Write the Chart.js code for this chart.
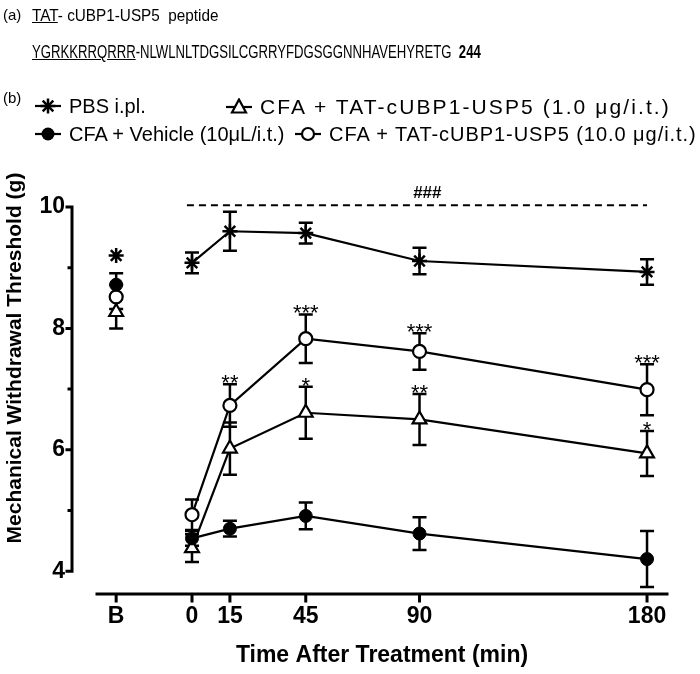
<!DOCTYPE html>
<html>
<head>
<meta charset="utf-8">
<script src="https://cdn.jsdelivr.net/npm/chart.js@4.4.0/dist/chart.umd.min.js"></script>
<style>
    body { margin: 0; background: #fff; font-family: "Liberation Sans", Arial, sans-serif; color: #000; }
    #page { position: relative; width: 700px; height: 674px; overflow: hidden; }
    #chart { position: absolute; left: 0; top: 0; }
    .txt { position: absolute; white-space: nowrap; line-height: 1; }
    .item { position: absolute; white-space: nowrap; line-height: 1; font-size: 20px; display: flex; align-items: center; }
    .item svg { margin-right: 8px; }
</style>
</head>
<body>
<div id="page">
    <canvas id="chart" width="700" height="674"></canvas>

    <div class="txt" style="left:3px; top:7px; font-size:15px;">(a)</div>
    <div class="txt" style="left:32px; top:7px; font-size:17px; transform:scaleX(0.9); transform-origin:left;"><u>TAT</u>- cUBP1-USP5&nbsp; peptide</div>
    <div class="txt" style="left:32px; top:43px; font-size:18px; transform:scaleX(0.73); transform-origin:left;"><u>YGRKKRRQRRR</u>-NLWLNLTDGSILCGRRYFDGSGGNNHAVEHYRETG&nbsp; <b>244</b></div>

    <div class="txt" style="left:3px; top:90px; font-size:15px;">(b)</div>
    <div id="legend"></div>
</div>

<script>
// x positions (minutes after treatment); baseline "B" sits left of 0
var timeLabels = ['B', '0', '15', '45', '90', '180'];
var timeValues = [-30, 0, 15, 45, 90, 180];

var pbsMean = [9.2, 9.08, 9.6, 9.57, 9.11, 8.93];
var pbsSem = [0, 0.17, 0.32, 0.17, 0.22, 0.21];

var vehicleMean = [8.72, 4.54, 4.7, 4.91, 4.62, 4.2];
var vehicleSem = [0.19, 0.12, 0.13, 0.22, 0.27, 0.46];

var dose1Mean = [8.27, 4.38, 6.02, 6.61, 6.5, 5.94];
var dose1Sem = [0.27, 0.23, 0.43, 0.43, 0.42, 0.37];
var dose1Stars = ['', '', '', '*', '**', '*'];

var dose10Mean = [8.52, 4.93, 6.73, 7.83, 7.62, 6.99];
var dose10Sem = [0.2, 0.25, 0.35, 0.4, 0.3, 0.42];
var dose10Stars = ['', '', '**', '***', '***', '***'];

var yTicks = [4, 6, 8, 10];
var yMinorTicks = [5, 7, 9];

var seriesNames = ['PBS i.pl.', 'CFA + Vehicle (10\u03bcL/i.t.)', 'CFA + TAT-cUBP1-USP5 (1.0 \u03bcg/i.t.)', 'CFA + TAT-cUBP1-USP5 (10.0 \u03bcg/i.t.)'];

var FONT = '"Liberation Sans", Arial, sans-serif';
Chart.defaults.font.family = FONT;
Chart.defaults.color = '#000';

function toPoints(means) {
    return timeValues.map(function (t, i) { return { x: t, y: means[i] }; });
}

// no line between baseline and time 0
function hideFirst(ctx) {
    return ctx.p0DataIndex === 0 ? 'rgba(0,0,0,0)' : '#000';
}

// axis lines drawn by hand (offset y axis, separate x axis like the original)
var axesPlugin = {
    id: 'axes',
    beforeDatasetsDraw: function (chart) {
        var ctx = chart.ctx, xs = chart.scales.x, ys = chart.scales.y, area = chart.chartArea;
        var ax = area.left - 25;
        ctx.save();
        ctx.strokeStyle = '#000';
        ctx.lineWidth = 3;
        ctx.lineCap = 'square';
        ctx.beginPath();
        ctx.moveTo(ax, ys.getPixelForValue(4));
        ctx.lineTo(ax, ys.getPixelForValue(10));
        yTicks.forEach(function (v) {
            var y = ys.getPixelForValue(v);
            ctx.moveTo(ax, y); ctx.lineTo(ax - 5, y);
        });
        yMinorTicks.forEach(function (v) {
            var y = ys.getPixelForValue(v);
            ctx.moveTo(ax, y); ctx.lineTo(ax - 3, y);
        });
        ctx.moveTo(area.left, area.bottom);
        ctx.lineTo(area.right, area.bottom);
        timeValues.forEach(function (t) {
            var x = xs.getPixelForValue(t);
            ctx.moveTo(x, area.bottom); ctx.lineTo(x, area.bottom + 7);
        });
        ctx.stroke();
        ctx.restore();
    }
};

var errorBarPlugin = {
    id: 'errorBars',
    beforeDatasetsDraw: function (chart) {
        var ctx = chart.ctx, xs = chart.scales.x, ys = chart.scales.y;
        ctx.save();
        ctx.strokeStyle = '#000';
        ctx.lineWidth = 2.5;
        chart.data.datasets.forEach(function (ds) {
            ds.data.forEach(function (p, i) {
                var e = ds.sem[i];
                if (!e) return;
                var x = xs.getPixelForValue(p.x);
                var yTop = ys.getPixelForValue(p.y + e);
                var yBot = ys.getPixelForValue(p.y - e);
                ctx.beginPath();
                ctx.moveTo(x, yTop); ctx.lineTo(x, yBot);
                ctx.moveTo(x - 7, yTop); ctx.lineTo(x + 7, yTop);
                ctx.moveTo(x - 7, yBot); ctx.lineTo(x + 7, yBot);
                ctx.stroke();
            });
        });
        ctx.restore();
    }
};

var annotationPlugin = {
    id: 'annotations',
    afterDatasetsDraw: function (chart) {
        var ctx = chart.ctx, xs = chart.scales.x, ys = chart.scales.y;
        ctx.save();
        ctx.fillStyle = '#000';
        ctx.textAlign = 'center';
        ctx.textBaseline = 'alphabetic';
        ctx.font = '22px ' + FONT;
        chart.data.datasets.forEach(function (ds) {
            if (!ds.stars) return;
            ds.data.forEach(function (p, i) {
                if (!ds.stars[i]) return;
                var x = xs.getPixelForValue(p.x);
                var yTop = ys.getPixelForValue(p.y + ds.sem[i]);
                ctx.fillText(ds.stars[i], x, yTop + 6);
            });
        });

        // PBS vs CFA groups
        var yd = ys.getPixelForValue(10.03);
        ctx.strokeStyle = '#000';
        ctx.lineWidth = 2;
        ctx.setLineDash([7, 5]);
        ctx.beginPath();
        ctx.moveTo(xs.getPixelForValue(-2), yd);
        ctx.lineTo(xs.getPixelForValue(180), yd);
        ctx.stroke();
        ctx.setLineDash([]);
        ctx.font = 'italic bold 17px ' + FONT;
        ctx.textBaseline = 'middle';
        ctx.fillText('###', xs.getPixelForValue(93), yd - 12);
        ctx.restore();
    }
};

var ctx = document.getElementById('chart').getContext('2d');
var chart = new Chart(ctx, {
    type: 'line',
    data: {
        datasets: [{
            label: seriesNames[0],
            data: toPoints(pbsMean),
            sem: pbsSem,
            borderColor: '#000',
            borderWidth: 2.2,
            pointStyle: 'star',
            pointRadius: 7.5,
            pointBorderWidth: 2.5,
            pointBorderColor: '#000',
            segment: { borderColor: hideFirst }
        }, {
            label: seriesNames[1],
            data: toPoints(vehicleMean),
            sem: vehicleSem,
            borderColor: '#000',
            borderWidth: 2.2,
            pointStyle: 'circle',
            pointRadius: 6.5,
            pointBorderWidth: 1,
            pointBackgroundColor: '#000',
            pointBorderColor: '#000',
            segment: { borderColor: hideFirst }
        }, {
            label: seriesNames[2],
            data: toPoints(dose1Mean),
            sem: dose1Sem,
            stars: dose1Stars,
            borderColor: '#000',
            borderWidth: 2.2,
            pointStyle: 'triangle',
            pointRadius: 8,
            pointBorderWidth: 2.2,
            pointBackgroundColor: '#fff',
            pointBorderColor: '#000',
            segment: { borderColor: hideFirst }
        }, {
            label: seriesNames[3],
            data: toPoints(dose10Mean),
            sem: dose10Sem,
            stars: dose10Stars,
            borderColor: '#000',
            borderWidth: 2.2,
            pointStyle: 'circle',
            pointRadius: 6.5,
            pointBorderWidth: 2.2,
            pointBackgroundColor: '#fff',
            pointBorderColor: '#000',
            segment: { borderColor: hideFirst }
        }]
    },
    options: {
        responsive: false,
        animation: false,
        devicePixelRatio: 1,
        layout: { padding: { top: 122, right: 33, bottom: 0, left: 0 } },
        plugins: { legend: { display: false }, tooltip: { enabled: false } },
        scales: {
            x: {
                type: 'linear',
                min: -37.58,
                max: 187.9,
                grid: { display: false, drawTicks: false },
                border: { display: false },
                afterBuildTicks: function (scale) {
                    scale.ticks = timeValues.map(function (v) { return { value: v }; });
                },
                afterFit: function (scale) { scale.height = 80; },
                ticks: {
                    autoSkip: false,
                    maxRotation: 0,
                    padding: 9,
                    font: { size: 23, weight: 'bold' },
                    callback: function (v) { return timeLabels[timeValues.indexOf(v)]; }
                },
                title: {
                    display: true,
                    text: 'Time After Treatment (min)',
                    font: { size: 23, weight: 'bold' },
                    padding: { top: 0, bottom: 5 }
                }
            },
            y: {
                min: 3.624,
                max: 11.4,
                grid: { display: false, drawTicks: false },
                border: { display: false },
                afterBuildTicks: function (scale) {
                    scale.ticks = yTicks.map(function (v) { return { value: v }; });
                },
                afterFit: function (scale) { scale.width = 97; },
                ticks: {
                    padding: 32,
                    font: { size: 23, weight: 'bold' }
                },
                title: {
                    display: true,
                    text: 'Mechanical Withdrawal Threshold (g)',
                    font: { size: 21, weight: 'bold' },
                    padding: { top: 2.5, bottom: 0 }
                }
            }
        }
    },
    plugins: [axesPlugin, errorBarPlugin, annotationPlugin]
});

// legend: 2 x 2 layout like the original
function markerSvg(kind) {
    var s = '<svg width="26" height="18" viewBox="0 0 26 18">' +
        '<line x1="0" y1="9" x2="26" y2="9" stroke="#000" stroke-width="2.2"/>';
    if (kind === 'star') {
        s += '<g stroke="#000" stroke-width="2.5">' +
            '<line x1="13" y1="1.5" x2="13" y2="16.5"/><line x1="5.5" y1="9" x2="20.5" y2="9"/>' +
            '<line x1="7.7" y1="3.7" x2="18.3" y2="14.3"/><line x1="7.7" y1="14.3" x2="18.3" y2="3.7"/></g>';
    } else if (kind === 'dot') {
        s += '<circle cx="13" cy="9" r="6.5" fill="#000"/>';
    } else if (kind === 'tri') {
        s += '<polygon points="13,1.5 20,14.5 6,14.5" fill="#fff" stroke="#000" stroke-width="2.2"/>';
    } else {
        s += '<circle cx="13" cy="9" r="6" fill="#fff" stroke="#000" stroke-width="2.2"/>';
    }
    return s + '</svg>';
}

var legendItems = [
    { kind: 'star', name: seriesNames[0], left: 35, top: 96, size: 20, spacing: 0 },
    { kind: 'tri', name: seriesNames[2], left: 226, top: 96, size: 21, spacing: 2.1 },
    { kind: 'dot', name: seriesNames[1], left: 35, top: 124, size: 20, spacing: 0 },
    { kind: 'ring', name: seriesNames[3], left: 295, top: 124, size: 20, spacing: 0.95 }
];
var legendBox = document.getElementById('legend');
legendItems.forEach(function (it) {
    var div = document.createElement('div');
    div.className = 'item';
    div.style.left = it.left + 'px';
    div.style.top = it.top + 'px';
    div.style.fontSize = it.size + 'px';
    div.innerHTML = markerSvg(it.kind) + '<span></span>';
    var span = div.querySelector('span');
    span.textContent = it.name;
    span.style.letterSpacing = it.spacing + 'px';
    legendBox.appendChild(div);
});
</script>
</body>
</html>
